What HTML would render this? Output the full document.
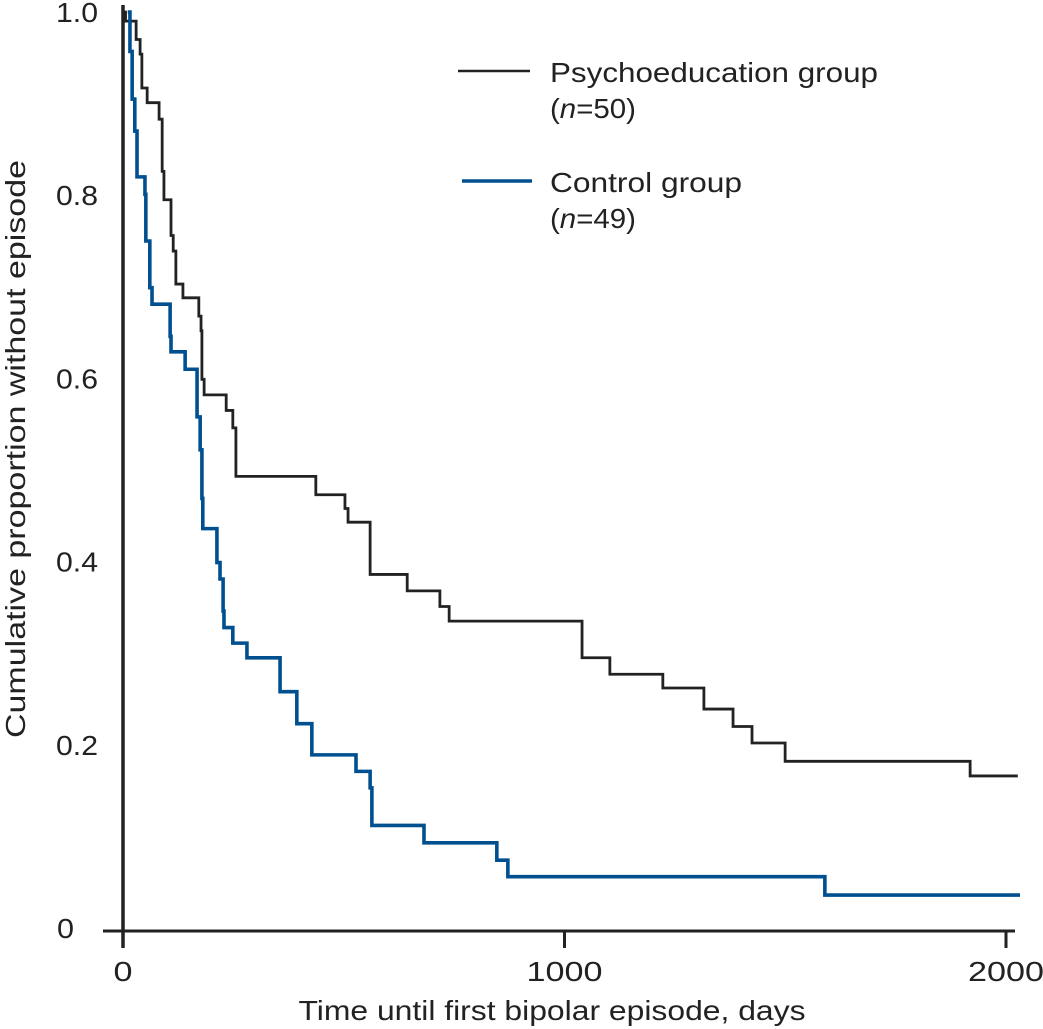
<!DOCTYPE html>
<html><head><meta charset="utf-8"><style>
html,body{margin:0;padding:0;background:#fff;}
svg{display:block;font-family:"Liberation Sans","DejaVu Sans",sans-serif;}
</style></head><body>
<svg id="chart" width="1043" height="1029" viewBox="0 0 1043 1029">
<g id="axes"></g>
<g id="series"></g>
<g>
  <line x1="458" y1="71" x2="530" y2="71" stroke="#222" stroke-width="2.5"/>
  <text x="550" y="82" font-size="28" fill="#222" textLength="328" lengthAdjust="spacingAndGlyphs">Psychoeducation group</text>
  <text x="550" y="118" font-size="28" fill="#222" textLength="86" lengthAdjust="spacingAndGlyphs">(<tspan font-style="italic">n</tspan>=50)</text>
  <line x1="462" y1="181" x2="532" y2="181" stroke="#005090" stroke-width="3.5"/>
  <text x="550" y="192" font-size="28" fill="#222" textLength="192" lengthAdjust="spacingAndGlyphs">Control group</text>
  <text x="550" y="228" font-size="28" fill="#222" textLength="86" lengthAdjust="spacingAndGlyphs">(<tspan font-style="italic">n</tspan>=49)</text>
</g>
</svg>
<script>
const xTicks = [0, 1000, 2000];
const yTicks = [0, 0.2, 0.4, 0.6, 0.8, 1.0];
const yTickLabels = ["0", "0.2", "0.4", "0.6", "0.8", "1.0"];
const psychoTimes = [0, 8, 32, 41, 45, 57, 84, 91, 95, 111, 116, 122, 138, 174, 179, 181, 186, 236, 251, 258, 439, 505, 512, 562, 646, 720, 741, 1042, 1105, 1225, 1318, 1384, 1427, 1502, 1921];
const psychoSurv  = [1.0, 0.99, 0.970, 0.954, 0.917, 0.901, 0.883, 0.826, 0.795, 0.756, 0.739, 0.703, 0.688, 0.668, 0.652, 0.599, 0.582, 0.565, 0.546, 0.493, 0.473, 0.458, 0.443, 0.386, 0.368, 0.351, 0.335, 0.295, 0.277, 0.262, 0.239, 0.220, 0.202, 0.182, 0.166];
const psychoEnd = 2029;
const controlTimes = [13, 18, 23, 29, 34, 52, 54, 63, 68, 109, 111, 143, 170, 177, 181, 183, 215, 222, 229, 231, 251, 283, 358, 396, 430, 530, 562, 566, 684, 849, 874, 1592];
const controlSurv  = [1.0, 0.957, 0.905, 0.870, 0.820, 0.801, 0.750, 0.699, 0.681, 0.646, 0.629, 0.610, 0.558, 0.522, 0.469, 0.436, 0.399, 0.381, 0.346, 0.328, 0.311, 0.295, 0.258, 0.223, 0.189, 0.171, 0.153, 0.112, 0.093, 0.074, 0.056, 0.036];
const controlEnd = 2034;

const X = d => 122 + d * 0.4415;
const Y = v => 928 - v * 916;
const NS = "http://www.w3.org/2000/svg";
function mk(tag, attrs, parent){ const e=document.createElementNS(NS,tag); for(const k in attrs) e.setAttribute(k,attrs[k]); parent.appendChild(e); return e; }
const axes=document.getElementById('axes'), series=document.getElementById('series');

let a=mk('line',{x1:123,y1:5,x2:123,y2:948,stroke:'#222','stroke-width':3.5},axes);


a=mk('line',{x1:103,y1:931,x2:1015,y2:931,stroke:'#222','stroke-width':3},axes);


xTicks.forEach(t=>{
  const l=mk('line',{x1:X(t)+1,y1:931,x2:X(t)+1,y2:948,stroke:'#222','stroke-width':3},axes);
  
  
  const s=String(t);
  const tx=mk('text',{x:X(t)+1,y:981,'font-size':28,fill:'#222','text-anchor':'middle',textLength:s.length*19,lengthAdjust:'spacingAndGlyphs'},axes);
  tx.textContent=s;
  
  
});
yTicks.forEach((t,i)=>{
  const s=yTickLabels[i];
  const tx=mk('text',{x:s.length===1?74:98,y:Y(t)+10,'font-size':28,fill:'#222','text-anchor':'end',textLength:s.length===1?17:42,lengthAdjust:'spacingAndGlyphs'},axes);
  tx.textContent=s;
  
  
});
let t=mk('text',{x:552,y:1020,'font-size':28,fill:'#222','text-anchor':'middle',textLength:507,lengthAdjust:'spacingAndGlyphs'},axes);
t.textContent='Time until first bipolar episode, days';


t=mk('text',{x:0,y:0,'font-size':28,fill:'#222','text-anchor':'middle',textLength:578,lengthAdjust:'spacingAndGlyphs',transform:'translate(25,449) rotate(-90)'},axes);
t.textContent='Cumulative proportion without episode';



function stepPath(times, surv, end){
  let d='M'+X(times[0])+','+Y(surv[0]);
  for(let i=1;i<times.length;i++){ d+=' H'+X(times[i])+' V'+Y(surv[i]); }
  d+=' H'+X(end);
  return d;
}
let p=mk('path',{d:stepPath(psychoTimes,psychoSurv,psychoEnd),fill:'none',stroke:'#222','stroke-width':2.8},series);


p=mk('path',{d:stepPath(controlTimes,controlSurv,controlEnd),fill:'none',stroke:'#005090','stroke-width':3.6},series);


</script>
</body></html>
